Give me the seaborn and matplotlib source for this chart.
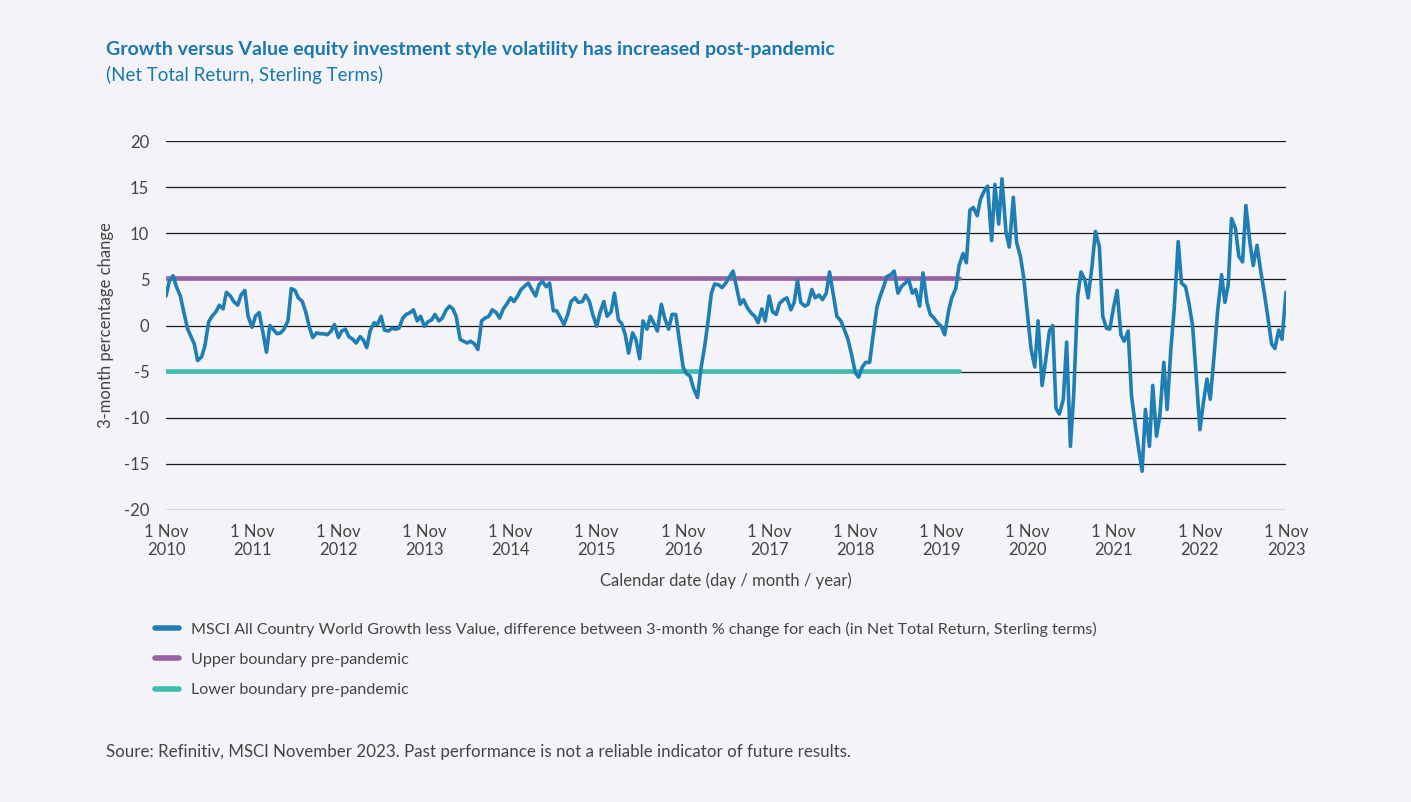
import matplotlib
matplotlib.use('Agg')
import matplotlib.pyplot as plt
from matplotlib.lines import Line2D
import seaborn as sns
import pandas as pd

# MSCI ACWI Growth less Value, 3-month % change difference (twice a month)
start, end = '2010-11-01', '2023-11-01'
growth_less_value = [
    3.2, 4.8, 5.4, 4.2, 3.2, 1.5, -0.4, -1.2, -2.0, -3.8, -3.4, -2.2, 0.4, 1.0, 1.5, 2.2, 1.8, 3.6, 3.2, 2.6,
    2.2, 3.3, 3.8, 1.0, -0.2, 1.0, 1.4, -0.5, -2.9, 0.0, -0.5, -0.9, -0.8, -0.4, 0.5, 4.0, 3.8, 3.0, 2.6, 1.5,
    -0.2, -1.3, -0.8, -0.9, -0.9, -1.0, -0.6, 0.1, -1.3, -0.6, -0.4, -1.2, -1.5, -1.9, -1.2, -1.6, -2.4, -0.6, 0.3, 0.1,
    1.0, -0.5, -0.6, -0.3, -0.4, -0.3, 0.8, 1.2, 1.4, 1.7, 0.5, 1.0, -0.1, 0.4, 0.6, 1.2, 0.5, 0.8, 1.7, 2.1,
    1.8, 1.0, -1.5, -1.7, -1.9, -1.7, -2.0, -2.6, 0.5, 0.8, 1.0, 1.7, 1.4, 0.8, 1.8, 2.3, 3.0, 2.6, 3.2, 3.9,
    4.3, 4.6, 3.8, 3.2, 4.4, 4.8, 4.2, 4.6, 1.6, 1.6, 0.8, 0.1, 1.2, 2.6, 3.0, 2.5, 2.6, 3.3, 2.6, 1.2,
    -0.1, 1.4, 2.6, 1.0, 1.5, 3.5, 0.6, 0.2, -1.0, -3.0, -0.8, -1.5, -3.6, 0.5, -0.4, 1.0, 0.2, -0.6, 2.3, 0.8,
    -0.4, 1.2, 1.2, -1.4, -4.5, -5.2, -5.5, -6.8, -7.8, -4.8, -2.2, 0.5, 3.5, 4.5, 4.4, 4.1, 4.6, 5.2, 5.9, 4.2,
    2.3, 2.8, 1.9, 1.4, 1.0, 0.3, 1.8, 0.5, 3.2, 1.5, 1.2, 2.4, 2.8, 3.0, 1.7, 2.5, 4.9, 2.5, 2.1, 2.3,
    3.9, 3.0, 3.3, 2.8, 3.5, 5.8, 3.2, 1.0, 0.5, -0.4, -1.5, -3.0, -5.1, -5.6, -4.5, -4.0, -4.0, -1.2, 2.0, 3.2,
    4.2, 5.3, 5.5, 5.9, 3.5, 4.2, 4.6, 5.0, 3.5, 3.9, 2.1, 5.7, 2.5, 1.2, 0.8, 0.3, -0.1, -1.0, 1.5, 3.0,
    4.0, 6.5, 7.8, 6.8, 12.5, 12.8, 11.9, 13.7, 14.6, 15.1, 9.2, 15.3, 11.0, 15.9, 10.1, 8.5, 13.9, 9.0, 7.5, 5.2,
    1.0, -2.5, -4.5, 0.5, -6.5, -4.0, -0.6, 0.0, -9.0, -9.6, -8.0, -1.8, -13.1, -7.5, 3.2, 5.8, 5.0, 3.0, 6.5, 10.2,
    8.5, 1.0, -0.3, -0.4, 2.1, 3.8, -1.0, -1.7, -0.6, -7.6, -11.0, -13.5, -15.8, -9.1, -13.1, -6.5, -12.0, -9.8, -4.0, -9.1,
    -2.5, 1.8, 9.1, 4.6, 4.2, 2.5, 0.0, -5.0, -11.3, -8.5, -5.8, -8.0, -3.0, 1.5, 5.5, 2.5, 4.4, 11.6, 10.5, 7.5,
    6.9, 13.0, 9.0, 6.5, 8.7, 6.2, 3.5, 1.1, -2.0, -2.5, -0.5, -1.5, 3.6,
]
dates = pd.date_range(start, end, freq='SMS')

# pre-pandemic boundaries
boundary_dates = pd.to_datetime(['2010-11-01', '2020-01-15'])
upper_boundary = [5.15, 5.15]
lower_boundary = [-4.9, -4.9]

tick_dates = pd.date_range(start, end, freq='12MS')
tick_labels = [f'1 Nov\n{d.year}' for d in tick_dates]

series_labels = [
    'MSCI All Country World Growth less Value, difference between 3-month % change for each '
    '(in Net Total Return, Sterling terms)',
    'Upper boundary pre-pandemic',
    'Lower boundary pre-pandemic',
]
blue, purple, teal = '#1f7fb4', '#9a60a7', '#3dbdae'
bg = '#f4f3f7'
text_col = '#444444'
title_col = '#1a78ad'

sns.set_style('white')
plt.rcParams['font.family'] = ['Lato', 'DejaVu Sans']
plt.rcParams['axes.unicode_minus'] = False

fig = plt.figure(figsize=(14.11, 8.02), dpi=100, facecolor=bg)
ax = fig.add_axes([166 / 1411, 292 / 802, 1120 / 1411, 369 / 802])
ax.set_facecolor(bg)

sns.lineplot(x=boundary_dates, y=upper_boundary, color=purple, lw=3.3, ax=ax)
sns.lineplot(x=boundary_dates, y=lower_boundary, color=teal, lw=3.3, ax=ax)
sns.lineplot(x=dates, y=growth_less_value, color=blue, lw=2.6, ax=ax)

ax.set_xlim(dates[0], dates[-1])
ax.set_ylim(-20, 20)
ax.set_yticks(range(-20, 25, 5))
ax.set_xticks(tick_dates)
ax.set_xticklabels(tick_labels, linespacing=1.15)
ax.grid(axis='y', color='#1a1a1a', lw=0.9)
ax.grid(axis='x', visible=False)
ax.set_axisbelow(True)
for s in ax.spines.values():
    s.set_visible(False)
ax.tick_params(axis='both', length=0, labelsize=12, colors=text_col)
ax.tick_params(axis='y', pad=12)
ax.tick_params(axis='x', pad=10)

ax.set_ylabel('3-month percentage change', fontsize=12, color=text_col)
ax.yaxis.set_label_coords(-0.046, 0.5)
ax.set_xlabel('Calendar date (day / month / year)', fontsize=12, color=text_col)
ax.xaxis.set_label_coords(0.5, (510 - 572) / 369)

fig.text(106 / 1411, 1 - 49 / 802,
         'Growth versus Value equity investment style volatility has increased post-pandemic',
         fontsize=14, fontweight='bold', color=title_col, va='center')
fig.text(106 / 1411, 1 - 75 / 802, '(Net Total Return, Sterling Terms)',
         fontsize=13.5, color=title_col, va='center')

handles = [Line2D([0], [0], color=c, lw=4, solid_capstyle='round') for c in (blue, purple, teal)]
fig.legend(handles, series_labels, loc='upper left', bbox_to_anchor=(140 / 1411, 1 - 607 / 802),
           frameon=False, fontsize=11.6, handlelength=1.5, handletextpad=0.75, labelspacing=1.0,
           labelcolor=text_col)

fig.text(106 / 1411, 1 - 752 / 802,
         'Soure: Refinitiv, MSCI November 2023. Past performance is not a reliable indicator of future results.',
         fontsize=12.2, color=text_col, va='center')

fig.savefig('out.png', dpi=100, facecolor=bg)
